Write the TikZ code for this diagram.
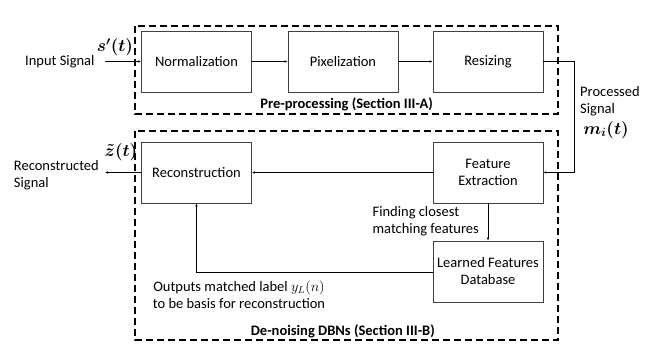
\documentclass[tikz,border=0pt]{standalone}
\usepackage{amsmath,bm}
\usepackage{fontspec}
\setmainfont{Carlito}
\usetikzlibrary{arrows.meta}
\begin{document}
\begin{tikzpicture}[x=1pt,y=-1pt,
  font=\fontsize{14.5}{17}\selectfont,
  blk/.style={draw=black!75, line width=0.8pt, minimum width=110pt, minimum height=61pt, align=center, inner sep=2pt},
  grp/.style={draw=black, line width=1.6pt, dash pattern=on 7pt off 4pt},
  conn/.style={line width=0.8pt, -{Latex[length=3pt,width=2.5pt]}},
  txt/.style={inner sep=0pt, align=left},
  mth/.style={inner sep=0pt, font=\fontsize{16.5}{19}\selectfont\boldmath},
  lbl/.style={inner sep=0pt, font=\fontsize{14.5}{17}\selectfont\bfseries}]
\useasboundingbox (0,0) rectangle (667,346);
% group boxes
\draw[grp] (135,26) rectangle (558,114);
\draw[grp] (135,131) rectangle (558,340);
\node[lbl, anchor=east] (lpre) at (433,104) {Pre-processing (Section III-A)};
\node[lbl, anchor=east] (lden) at (435,331) {De-noising DBNs (Section III-B)};
% blocks
\node[blk] (norm) at (196.5,61.5) {Normalization};
\node[blk] (pix) at (343,61.5) {Pixelization};
\node[blk] (res) at (488,61.5) {Resizing};
\node[blk] (rec) at (196.5,172.5) {Reconstruction};
\node[blk] (fe) at (488,172.5) {Feature\\Extraction};
\node[blk] (db) at (488,271.5) {Learned Features\\Database};
% input
\node[txt, anchor=west] (in) at (25,62) {Input Signal};
\coordinate (inS) at (105,61.5);
\node[mth] (sl) at (115,47) {$s'(t)$};
\draw[conn] (inS) -- (norm.west);
\draw[conn] (norm) -- (pix);
\draw[conn] (pix) -- (res);
% processed
\coordinate (r1) at (574,61.5);
\coordinate (r2) at (574,172.5);
\draw[conn] (res.east) -- (r1) -- (r2) -- (fe.east);
\node[txt, anchor=west] (ps) at (580,101) {Processed\\Signal};
\node[mth] (ml) at (606,130) {$m_i(t)$};
% bottom
\draw[conn] (fe.west) -- (rec.east);
\draw[conn] (fe.south) -- (db.north);
\node[txt, anchor=east] (fc) at (479,221.5) {Finding closest\\matching features};
\coordinate (d1) at (196.5,272);
\draw[conn] (db.west |- d1) -- (d1) -- (rec.south);
\node[txt, align=center] (out) at (239,294.5) {Outputs matched label $y_L(n)$\\to be basis for reconstruction};
% output
\coordinate (outE) at (105,172.5);
\draw[conn] (rec.west) -- (outE);
\node[txt, anchor=east] (rs) at (99,175) {Reconstructed\\Signal};
\node[mth] (zl) at (121,152) {$\tilde{z}(t)$};
\end{tikzpicture}
\end{document}
